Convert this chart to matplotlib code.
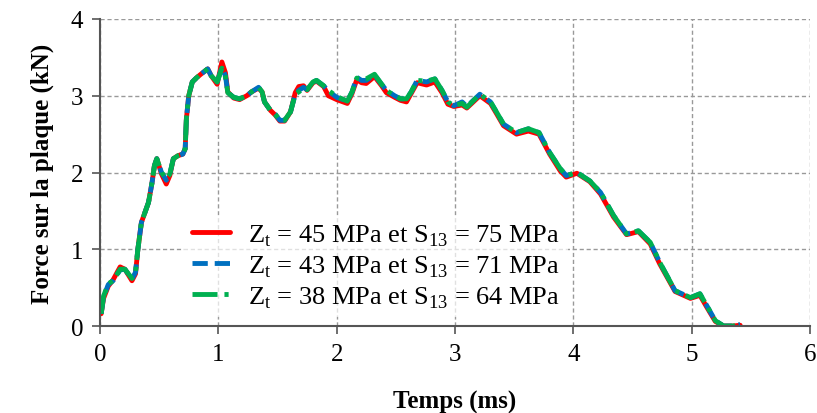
import matplotlib
matplotlib.use("Agg")
import matplotlib.pyplot as plt

plt.rcParams['font.family'] = ['Liberation Serif', 'DejaVu Serif']
plt.rcParams['mathtext.fontset'] = 'custom'
plt.rcParams['mathtext.rm'] = 'Liberation Serif'
plt.rcParams['lines.scale_dashes'] = False

# Force sur la plaque vs temps

t = [0.01, 0.03, 0.07, 0.11, 0.17, 0.21, 0.27, 0.30, 0.32, 0.35, 0.38, 0.41,
     0.44, 0.46, 0.48, 0.52, 0.56, 0.59, 0.62, 0.66, 0.70, 0.72, 0.73, 0.75,
     0.78, 0.82, 0.86, 0.91, 0.94, 0.99, 1.03, 1.06, 1.08, 1.13, 1.18, 1.24,
     1.28, 1.34, 1.37, 1.39, 1.44, 1.48, 1.52, 1.56, 1.61, 1.65, 1.68, 1.72,
     1.75, 1.80, 1.83, 1.89, 1.93, 2.00, 2.09, 2.13, 2.17, 2.21, 2.25, 2.32,
     2.38, 2.42, 2.49, 2.54, 2.59, 2.63, 2.68, 2.76, 2.83, 2.89, 2.94, 2.99,
     3.06, 3.10, 3.21, 3.30, 3.35, 3.41, 3.52, 3.62, 3.71, 3.80, 3.89, 3.94,
     4.03, 4.14, 4.23, 4.34, 4.45, 4.55, 4.65, 4.73, 4.86, 4.99, 5.07, 5.13,
     5.20, 5.27, 5.35, 5.41]

f_45 = [0.16, 0.36, 0.52, 0.60, 0.77, 0.74, 0.59, 0.68, 1.00, 1.35, 1.48, 1.61,
        1.87, 2.09, 2.18, 1.98, 1.85, 1.96, 2.18, 2.22, 2.24, 2.31, 2.70, 3.00,
        3.18, 3.24, 3.29, 3.35, 3.26, 3.15, 3.44, 3.30, 3.05, 2.97, 2.95, 3.00,
        3.05, 3.10, 3.05, 2.92, 2.81, 2.75, 2.67, 2.67, 2.79, 3.04, 3.12, 3.13,
        3.07, 3.17, 3.19, 3.12, 3.00, 2.95, 2.90, 3.03, 3.21, 3.17, 3.16, 3.25,
        3.13, 3.04, 2.98, 2.94, 2.92, 3.03, 3.17, 3.14, 3.18, 3.04, 2.89, 2.86,
        2.88, 2.84, 3.00, 2.90, 2.77, 2.61, 2.50, 2.54, 2.50, 2.24, 2.02, 1.94,
        1.99, 1.88, 1.72, 1.42, 1.19, 1.23, 1.07, 0.81, 0.45, 0.36, 0.40, 0.24,
        0.06, 0.00, 0.00, 0.01]

f_43 = [0.16, 0.38, 0.54, 0.59, 0.73, 0.74, 0.61, 0.70, 1.00, 1.35, 1.48, 1.61,
        1.87, 2.09, 2.18, 2.00, 1.90, 1.98, 2.18, 2.22, 2.24, 2.31, 2.70, 3.00,
        3.18, 3.24, 3.29, 3.35, 3.26, 3.18, 3.37, 3.26, 3.04, 2.98, 2.96, 3.00,
        3.05, 3.11, 3.05, 2.92, 2.81, 2.76, 2.68, 2.68, 2.79, 3.02, 3.07, 3.11,
        3.08, 3.18, 3.20, 3.13, 3.06, 2.98, 2.93, 3.05, 3.24, 3.20, 3.20, 3.27,
        3.15, 3.07, 3.00, 2.96, 2.96, 3.05, 3.20, 3.18, 3.22, 3.07, 2.92, 2.87,
        2.92, 2.86, 3.02, 2.92, 2.79, 2.63, 2.52, 2.57, 2.52, 2.26, 2.05, 1.96,
        2.00, 1.89, 1.74, 1.44, 1.20, 1.24, 1.09, 0.83, 0.46, 0.37, 0.42, 0.26,
        0.07, 0.00, 0.00, 0.02]

f_38 = [0.16, 0.39, 0.55, 0.59, 0.74, 0.74, 0.62, 0.70, 1.00, 1.35, 1.48, 1.61,
        1.87, 2.09, 2.18, 2.00, 1.92, 1.98, 2.18, 2.22, 2.24, 2.31, 2.70, 3.00,
        3.18, 3.24, 3.29, 3.35, 3.26, 3.18, 3.36, 3.25, 3.04, 2.98, 2.96, 3.00,
        3.05, 3.11, 3.05, 2.92, 2.81, 2.76, 2.68, 2.68, 2.79, 3.02, 3.05, 3.10,
        3.08, 3.18, 3.20, 3.13, 3.07, 2.99, 2.93, 3.05, 3.23, 3.21, 3.22, 3.28,
        3.15, 3.07, 3.00, 2.96, 2.96, 3.05, 3.20, 3.19, 3.22, 3.07, 2.92, 2.87,
        2.90, 2.85, 3.02, 2.92, 2.79, 2.63, 2.52, 2.57, 2.52, 2.26, 2.05, 1.96,
        2.00, 1.89, 1.74, 1.44, 1.20, 1.24, 1.09, 0.83, 0.46, 0.37, 0.42, 0.26,
        0.07, 0.00, 0.00, 0.02]

labels = [r'Z$_\mathregular{t}$ = 45 MPa et S$_\mathregular{13}$ = 75 MPa',
          r'Z$_\mathregular{t}$ = 43 MPa et S$_\mathregular{13}$ = 71 MPa',
          r'Z$_\mathregular{t}$ = 38 MPa et S$_\mathregular{13}$ = 64 MPa']

fig = plt.figure(figsize=(8.17, 4.14), dpi=100)
ax = fig.add_axes([0.1224, 0.2101, 0.869, 0.7416])

ax.plot(t, f_45, color='#ff0000', lw=3.5, label=labels[0],
        solid_capstyle='round')
ax.plot(t, f_43, color='#0070c0', lw=3.5, dashes=(11, 5), label=labels[1])
ax.plot(t, f_38, color='#00b050', lw=3.5, dashes=(18, 5, 3, 5), label=labels[2])

ax.set_xlim(0, 6)
ax.set_ylim(0, 4)
ax.set_xticks(range(0, 7))
ax.set_yticks(range(0, 5))

ax.grid(True, color='#999999', linestyle=(0, (3, 2)), linewidth=1.0)
ax.set_axisbelow(True)
for side in ['top', 'right']:
    ax.spines[side].set_visible(False)
for side in ['left', 'bottom']:
    ax.spines[side].set_color('#555555')
    ax.spines[side].set_linewidth(1.5)

ax.tick_params(direction='out', length=6, width=1.2, color='#555555',
               labelsize=18, pad=6)

ax.set_xlabel('Temps (ms)', fontsize=18, fontweight='bold', labelpad=18)
ax.set_ylabel('Force sur la plaque (kN)', fontsize=18, fontweight='bold',
              labelpad=12)

leg = ax.legend(loc='lower left', bbox_to_anchor=(0.1, -0.015), fontsize=19,
                frameon=True, framealpha=0.7, edgecolor='none',
                handlelength=1.45, handletextpad=0.68, labelspacing=0.2,
                borderpad=0.3)
leg.get_frame().set_facecolor('white')

fig.savefig('out.png', dpi=100)
